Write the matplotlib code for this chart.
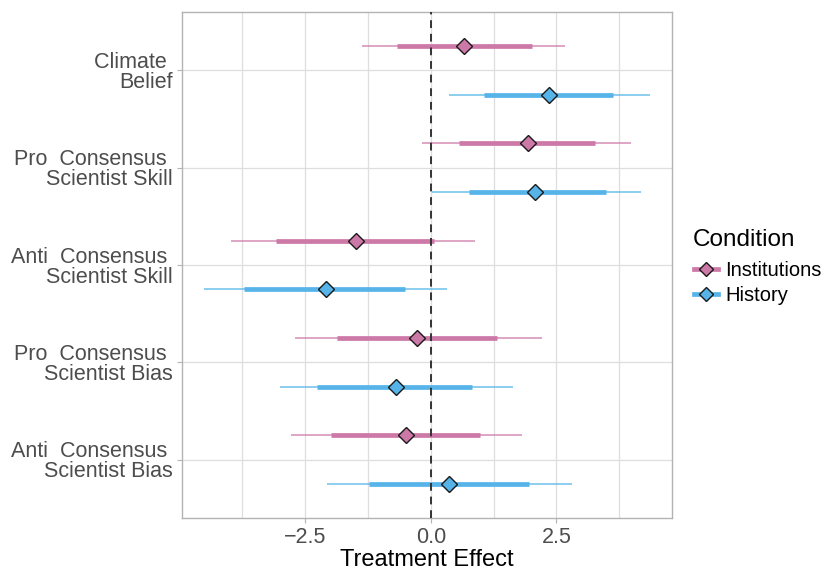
import matplotlib
matplotlib.use("Agg")
import matplotlib.pyplot as plt
from matplotlib.lines import Line2D
import numpy as np

plt.rcParams['font.family'] = ['Liberation Sans', 'DejaVu Sans']

categories = ["Climate \nBelief", "Pro  Consensus \nScientist Skill", "Anti  Consensus \nScientist Skill",
              "Pro  Consensus \nScientist Bias", "Anti  Consensus \nScientist Bias"]
conditions = ["Institutions", "History"]
colors = {"Institutions": "#CC79A7", "History": "#56B4E9"}

est = {"Institutions": [0.67, 1.94, -1.48, -0.28, -0.49],
       "History":      [2.35, 2.08, -2.09, -0.70, 0.36]}
lo_inner = {"Institutions": [-0.68, 0.57, -3.08, -1.86, -1.99],
            "History":      [1.06, 0.76, -3.71, -2.26, -1.23]}
hi_inner = {"Institutions": [2.01, 3.26, 0.07, 1.31, 0.97],
            "History":      [3.63, 3.48, -0.51, 0.82, 1.96]}
lo_outer = {"Institutions": [-1.37, -0.17, -3.97, -2.70, -2.79],
            "History":      [0.37, 0.02, -4.51, -3.01, -2.06]}
hi_outer = {"Institutions": [2.68, 3.98, 0.88, 2.21, 1.81],
            "History":      [4.37, 4.18, 0.33, 1.63, 2.80]}

fig = plt.figure(figsize=(8.27, 5.70), dpi=100)
ax = fig.add_axes([0.2201, 0.0912, 0.5925, 0.8877])

ypos = np.arange(1, len(categories) + 1)
dodge = {"Institutions": -0.25, "History": 0.25}

for cond in conditions:
    c = colors[cond]
    y = ypos + dodge[cond]
    ax.hlines(y, lo_outer[cond], hi_outer[cond], color=c, lw=1.1, alpha=0.85, zorder=3)
    ax.hlines(y, lo_inner[cond], hi_inner[cond], color=c, lw=3.4, zorder=4)
    ax.plot(est[cond], y, linestyle='none', marker='D', markersize=8,
            markerfacecolor=c, markeredgecolor='#1a1a1a', markeredgewidth=1.0, zorder=5)

ax.axvline(0, color='#333333', lw=1.4, ls=(0, (4, 3)), zorder=4)

ax.set_xlim(-4.95, 4.80)
ax.set_ylim(5.6, 0.4)
ax.set_yticks(ypos)
ax.set_yticklabels(categories, fontsize=15.5, color='#4D4D4D', ha='right', linespacing=0.95)
ax.set_xticks([-2.5, 0, 2.5])
ax.set_xticklabels(["\u22122.5", "0.0", "2.5"], fontsize=15.5, color='#4D4D4D')
ax.set_xticks([-3.75, -1.25, 1.25, 3.75], minor=True)
ax.tick_params(axis='both', which='major', length=3.5, color='#B3B3B3', width=0.8, pad=3)
ax.tick_params(axis='x', which='minor', length=0)
ax.grid(True, which='major', color='#DEDEDE', lw=0.9, zorder=0)
ax.grid(True, which='minor', axis='x', color='#DEDEDE', lw=0.9, zorder=0)
ax.set_axisbelow(True)
for s in ax.spines.values():
    s.set_color('#B3B3B3')
    s.set_linewidth(1.0)

ax.set_xlabel("Treatment Effect", fontsize=17, color='black', labelpad=1)

fig.text(0.838, 1 - 240 / 570, "Condition", fontsize=17.5, color='black',
         ha='left', va='center')
handles = [Line2D([0], [0], color=colors[c], lw=3.4, marker='D', markersize=7.5,
                  markerfacecolor=colors[c], markeredgecolor='#1a1a1a', markeredgewidth=1.0)
           for c in conditions]
leg = fig.legend(handles, conditions, loc='upper left',
                 bbox_to_anchor=(0.839, 1 - 261 / 570), frameon=False, fontsize=14.5,
                 handlelength=1.2, handletextpad=0.35,
                 labelspacing=0.3, borderpad=0.0, borderaxespad=0.0)

fig.savefig("out.png", dpi=100)
